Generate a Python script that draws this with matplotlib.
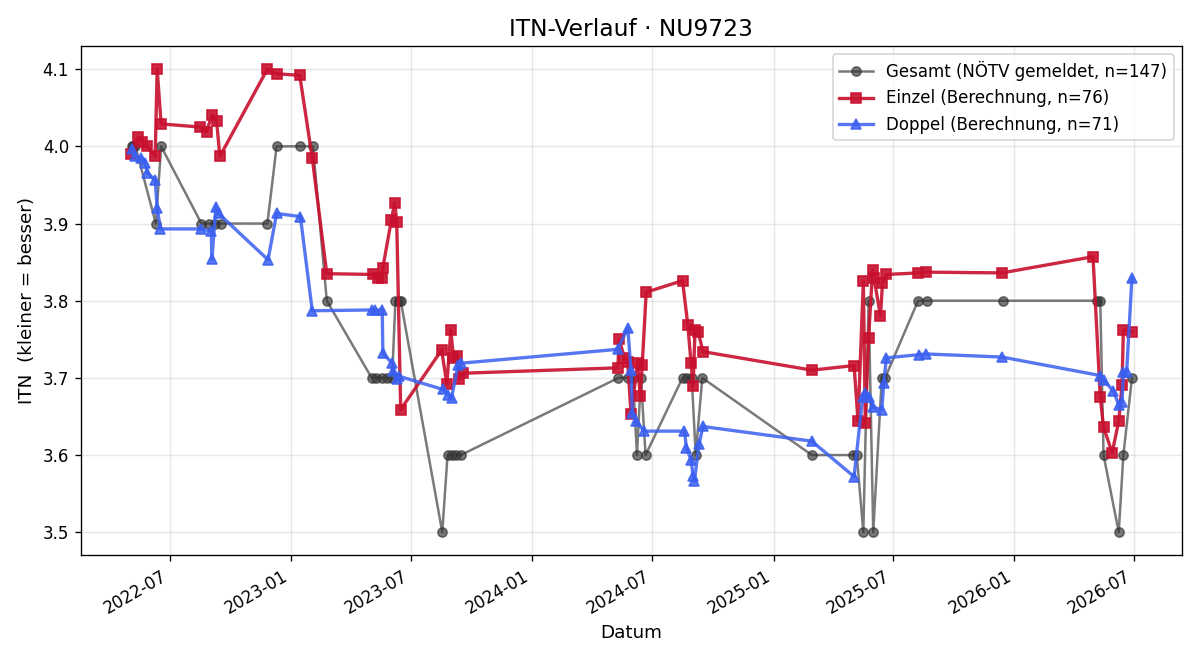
import matplotlib
matplotlib.use("Agg")
import matplotlib.pyplot as plt
import matplotlib.dates as mdates
import pandas as pd

# Gesamt-ITN (vom Verband gemeldet, 0.1-Schritte)
gesamt_dates = [
    "2022-05-05", "2022-05-07", "2022-05-10", "2022-06-10", "2022-06-18",
    "2022-08-18", "2022-08-29", "2022-09-07", "2022-09-17", "2022-11-26",
    "2022-12-10", "2023-01-14", "2023-02-03", "2023-02-24", "2023-05-03",
    "2023-05-10", "2023-05-18", "2023-05-26", "2023-06-03", "2023-06-08",
    "2023-06-13", "2023-06-16", "2023-08-18", "2023-08-26", "2023-09-01",
    "2023-09-08", "2023-09-15", "2024-05-11", "2024-05-26", "2024-06-02",
    "2024-06-08", "2024-06-14", "2024-06-21", "2024-08-16", "2024-08-23",
    "2024-08-30", "2024-09-05", "2024-09-15", "2025-02-28", "2025-05-02",
    "2025-05-07", "2025-05-17", "2025-05-25", "2025-06-01", "2025-06-14",
    "2025-06-19", "2025-08-08", "2025-08-21", "2025-12-14", "2026-05-06",
    "2026-05-11", "2026-05-16", "2026-06-08", "2026-06-15", "2026-06-28",
]
gesamt_itn = [
    4.0, 4.0, 4.0, 3.9, 4.0,
    3.9, 3.9, 3.9, 3.9, 3.9,
    4.0, 4.0, 4.0, 3.8, 3.7,
    3.7, 3.7, 3.7, 3.7, 3.8,
    3.8, 3.8, 3.5, 3.6, 3.6,
    3.6, 3.6, 3.7, 3.7, 3.7,
    3.6, 3.7, 3.6, 3.7, 3.7,
    3.7, 3.6, 3.7, 3.6, 3.6,
    3.6, 3.5, 3.8, 3.5, 3.7,
    3.7, 3.8, 3.8, 3.8, 3.8,
    3.8, 3.6, 3.5, 3.6, 3.7,
]

einzel_dates = [
    "2022-05-03", "2022-05-14", "2022-05-20", "2022-05-28", "2022-06-09",
    "2022-06-12", "2022-06-18", "2022-08-16", "2022-08-26", "2022-09-03",
    "2022-09-10", "2022-09-15", "2022-11-26", "2022-12-10", "2023-01-14",
    "2023-02-02", "2023-02-24", "2023-05-05", "2023-05-13", "2023-05-18",
    "2023-05-20", "2023-06-02", "2023-06-07", "2023-06-10", "2023-06-16",
    "2023-08-17", "2023-08-25", "2023-08-31", "2023-09-04", "2023-09-10",
    "2023-09-13", "2023-09-18", "2024-05-10", "2024-05-12", "2024-05-20",
    "2024-05-25", "2024-05-30", "2024-06-09", "2024-06-13", "2024-06-16",
    "2024-06-22", "2024-08-16", "2024-08-24", "2024-08-29", "2024-09-01",
    "2024-09-04", "2024-09-09", "2024-09-16", "2025-02-28", "2025-05-03",
    "2025-05-09", "2025-05-17", "2025-05-20", "2025-05-25", "2025-05-31",
    "2025-06-02", "2025-06-12", "2025-06-15", "2025-06-21", "2025-08-08",
    "2025-08-20", "2025-12-13", "2026-04-30", "2026-05-11", "2026-05-16",
    "2026-05-29", "2026-06-08", "2026-06-13", "2026-06-15", "2026-06-28",
]
einzel_itn = [
    3.990, 4.012, 4.006, 4.000, 3.987,
    4.100, 4.029, 4.025, 4.019, 4.041,
    4.033, 3.987, 4.100, 4.094, 4.092,
    3.985, 3.835, 3.834, 3.830, 3.829,
    3.843, 3.905, 3.927, 3.902, 3.659,
    3.736, 3.692, 3.762, 3.726, 3.728,
    3.698, 3.706, 3.713, 3.750, 3.726,
    3.720, 3.653, 3.719, 3.676, 3.717,
    3.811, 3.826, 3.769, 3.719, 3.689,
    3.762, 3.759, 3.734, 3.710, 3.716,
    3.644, 3.825, 3.642, 3.752, 3.840,
    3.830, 3.780, 3.823, 3.834, 3.836,
    3.837, 3.836, 3.857, 3.675, 3.636,
    3.603, 3.644, 3.691, 3.762, 3.760,
]

doppel_dates = [
    "2022-05-05", "2022-05-10", "2022-05-18", "2022-05-25", "2022-05-28",
    "2022-06-09", "2022-06-12", "2022-06-17", "2022-08-18", "2022-09-02",
    "2022-09-03", "2022-09-09", "2022-09-13", "2022-11-27", "2022-12-10",
    "2023-01-15", "2023-02-02", "2023-05-03", "2023-05-08", "2023-05-19",
    "2023-05-20", "2023-06-03", "2023-06-05", "2023-06-10", "2023-06-14",
    "2023-08-19", "2023-08-27", "2023-09-01", "2023-09-11", "2023-09-15",
    "2024-05-10", "2024-05-25", "2024-05-30", "2024-06-01", "2024-06-06",
    "2024-06-19", "2024-08-19", "2024-08-22", "2024-08-29", "2024-09-01",
    "2024-09-03", "2024-09-10", "2024-09-16", "2025-02-28", "2025-05-03",
    "2025-05-16", "2025-05-20", "2025-05-26", "2025-05-31", "2025-06-14",
    "2025-06-17", "2025-06-21", "2025-08-09", "2025-08-20", "2025-12-13",
    "2026-05-11", "2026-05-16", "2026-05-31", "2026-06-08", "2026-06-13",
    "2026-06-15", "2026-06-20", "2026-06-28",
]
doppel_itn = [
    3.997, 3.987, 3.985, 3.978, 3.966,
    3.956, 3.920, 3.893, 3.893, 3.890,
    3.854, 3.922, 3.913, 3.853, 3.913,
    3.909, 3.787, 3.788, 3.788, 3.788,
    3.732, 3.719, 3.709, 3.698, 3.702,
    3.685, 3.678, 3.674, 3.717, 3.719,
    3.737, 3.765, 3.710, 3.655, 3.644,
    3.631, 3.631, 3.609, 3.594, 3.573,
    3.566, 3.614, 3.637, 3.618, 3.572,
    3.675, 3.680, 3.675, 3.662, 3.659,
    3.694, 3.726, 3.730, 3.731, 3.727,
    3.703, 3.697, 3.683, 3.665, 3.669,
    3.708, 3.708, 3.830,
]

fig, ax = plt.subplots(figsize=(10, 5.5), dpi=120)

ax.plot(pd.to_datetime(gesamt_dates), gesamt_itn, marker="o", markersize=5.5,
        linewidth=1.5, color="#333333", alpha=0.65,
        label="Gesamt (NÖTV gemeldet, n=147)")
ax.plot(pd.to_datetime(einzel_dates), einzel_itn, marker="s", markersize=6,
        linewidth=2, color="#c8102e", alpha=0.9,
        label="Einzel (Berechnung, n=76)")
ax.plot(pd.to_datetime(doppel_dates), doppel_itn, marker="^", markersize=6,
        linewidth=2, color="#3a5ff0", alpha=0.85,
        label="Doppel (Berechnung, n=71)")

ax.set_title("ITN-Verlauf · NU9723", fontsize=14)
ax.set_xlabel("Datum", fontsize=11)
ax.set_ylabel("ITN  (kleiner = besser)", fontsize=11)
ax.grid(True, alpha=0.3)
ax.xaxis.set_major_locator(mdates.MonthLocator(bymonth=[1, 7]))
ax.xaxis.set_major_formatter(mdates.DateFormatter("%Y-%m"))
ax.legend(loc="upper right", fontsize=10)
fig.autofmt_xdate()

plt.tight_layout()
plt.savefig("out.png")
